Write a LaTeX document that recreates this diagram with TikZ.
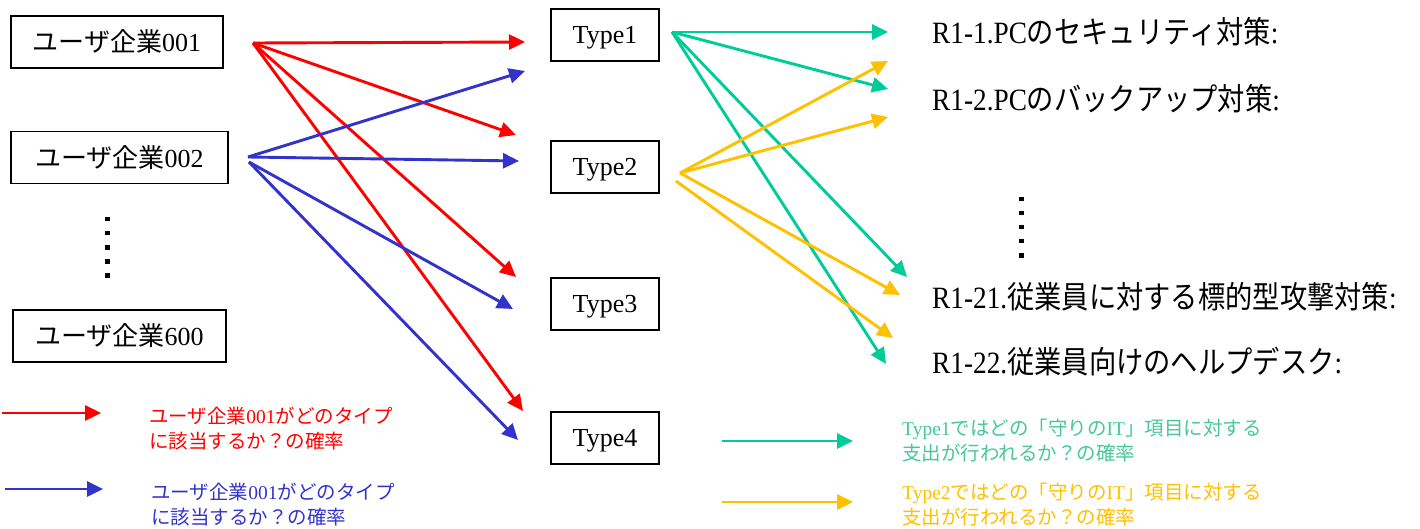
\documentclass[tikz,border=0pt]{standalone}
\usepackage{fontspec}
\usepackage{graphicx}
\setmainfont{Liberation Serif}
\newfontfamily\jp{Noto Sans CJK JP}
\usetikzlibrary{arrows.meta}

\definecolor{cred}{RGB}{255,0,0}
\definecolor{cblue}{RGB}{51,51,204}
\definecolor{cgreen}{RGB}{0,204,153}
\definecolor{corange}{RGB}{255,192,0}
\definecolor{cgreentext}{RGB}{70,200,150}

% type label, set a little below the box centre
\newcommand{\typelabel}[1]{\raisebox{-3pt}[\height][\depth]{#1}}

\begin{document}
\begin{tikzpicture}[x=1pt,y=-1pt,
  box/.style={draw=black, line width=1.8pt, minimum height=52pt, inner sep=0pt,
              font=\fontsize{26}{30}\selectfont},
  link/.style={line width=2.9pt, -{Triangle[length=16pt,width=15pt]}},
  item/.style={anchor=west, inner sep=0pt, font=\fontsize{31}{36}\selectfont},
  legend/.style={anchor=west, inner sep=0pt, align=left,
                 font=\fontsize{19.5}{25}\selectfont},
  dot/.style={fill=black}
]
\useasboundingbox (0,0) rectangle (1420,529);

% user companies
\node[box, minimum width=212pt] (u1) at (117,42)   {{\jp ユーザ企業}001};
\node[box, minimum width=217pt] (u2) at (119.5,157.5) {{\jp ユーザ企業}002};
\node[box, minimum width=213pt] (u6) at (119.5,336) {{\jp ユーザ企業}600};

% types
\node[box, minimum width=108pt] (t1) at (605,35)  {\typelabel{Type1}};
\node[box, minimum width=108pt] (t2) at (605,167) {\typelabel{Type2}};
\node[box, minimum width=108pt] (t3) at (605,304) {\typelabel{Type3}};
\node[box, minimum width=108pt] (t4) at (605,438) {\typelabel{Type4}};

% security items
\node[item] (r1)  at (932,32)  {\scalebox{0.88}[1]{R1-1.PC{\jp のセキュリティ対策}:}};
\node[item] (r2)  at (932,99)  {\scalebox{0.88}[1]{R1-2.PC{\jp のバックアップ対策}:}};
\node[item] (r21) at (932,297) {\scalebox{0.88}[1]{R1-21.{\jp 従業員に対する標的型攻撃対策}:}};
\node[item] (r22) at (932,362) {\scalebox{0.88}[1]{R1-22.{\jp 従業員向けのヘルプデスク}:}};

% ellipsis dots
\foreach \y in {217,231,245,259,273} \fill[dot] (105,\y) rectangle +(4.5,4.5);
\foreach \y in {197,211,225,239,253} \fill[dot] (1019,\y) rectangle +(4.5,4.5);

% connector end points
\coordinate (u1o) at (253,43);
\coordinate (u2o) at (248,157);
\coordinate (u2p) at (249,162);
\coordinate (t1o) at (672,32);
\coordinate (t2o) at (680,173);
\coordinate (t2p) at (676,181);

\coordinate (t1a) at (525,42);
\coordinate (t1b) at (525,71);
\coordinate (t2a) at (516,135);
\coordinate (t2b) at (519,161);
\coordinate (t3a) at (516,277);
\coordinate (t3b) at (513,309);
\coordinate (t4a) at (523,411);
\coordinate (t4b) at (518,440);

\coordinate (r1a)  at (888,32);
\coordinate (r1b)  at (888,61);
\coordinate (r2a)  at (888,89);
\coordinate (r2b)  at (888,117);
\coordinate (r21a) at (907,277);
\coordinate (r21b) at (900,295);
\coordinate (r22a) at (893,338);
\coordinate (r22b) at (886,364);

% company -> type
\draw[link, cred] (u1o) -- (t1a);
\draw[link, cred] (u1o) -- (t2a);
\draw[link, cred] (u1o) -- (t3a);
\draw[link, cred] (u1o) -- (t4a);
\draw[link, cblue] (u2o) -- (t1b);
\draw[link, cblue] (u2o) -- (t2b);
\draw[link, cblue] (u2p) -- (t3b);
\draw[link, cblue] (u2p) -- (t4b);

% type -> item
\draw[link, cgreen] (t1o) -- (r1a);
\draw[link, cgreen] (t1o) -- (r2a);
\draw[link, cgreen] (t1o) -- (r21a);
\draw[link, cgreen] (t1o) -- (r22b);
\draw[link, corange] (t2o) -- (r1b);
\draw[link, corange] (t2o) -- (r2b);
\draw[link, corange] (t2o) -- (r21b);
\draw[link, corange] (t2p) -- (r22a);

% legend
\coordinate (lr0) at (2,413);   \coordinate (lr1) at (101,413);
\coordinate (lb0) at (5,489);   \coordinate (lb1) at (103,489);
\coordinate (lg0) at (722,441); \coordinate (lg1) at (853,441);
\coordinate (lo0) at (722,502); \coordinate (lo1) at (853,502);
\draw[link, cred] (lr0) -- (lr1);
\draw[link, cblue] (lb0) -- (lb1);
\draw[link, cgreen] (lg0) -- (lg1);
\draw[link, corange] (lo0) -- (lo1);

\node[legend, text=cred] (lrt) at (149,429)
  {{\jp ユーザ企業}001{\jp がどのタイプ}\\{\jp に該当するか？の確率}};
\node[legend, text=cblue] (lbt) at (151,505)
  {{\jp ユーザ企業}001{\jp がどのタイプ}\\{\jp に該当するか？の確率}};
\node[legend, text=cgreentext] (lgt) at (902,441)
  {Type1{\jp ではどの「守りの}IT{\jp 」項目に対する}\\{\jp 支出が行われるか？の確率}};
\node[legend, text=corange] (lot) at (902,505)
  {Type2{\jp ではどの「守りの}IT{\jp 」項目に対する}\\{\jp 支出が行われるか？の確率}};
\end{tikzpicture}
\end{document}
